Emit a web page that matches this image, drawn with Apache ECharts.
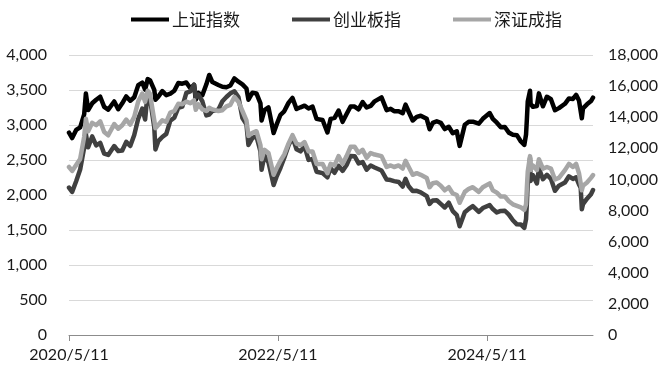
<!DOCTYPE html>
<html>
<head>
<meta charset="utf-8">
<script src="https://cdn.jsdelivr.net/npm/echarts@6/dist/echarts.min.js"></script>
<style>
	html, body { margin: 0; padding: 0; background: #fff; }
	#chartDiv { width: 671px; height: 376px; }
</style>
</head>
<body>
<div id="chartDiv"></div>
<script>
var dates = [
	'2020/5/11', '2020/5/22', '2020/6/5', '2020/6/19', '2020/7/3', '2020/7/9', '2020/7/17', '2020/7/31',
	'2020/8/14', '2020/8/28', '2020/9/11', '2020/9/25', '2020/10/16', '2020/10/30', '2020/11/13', '2020/11/27',
	'2020/12/11', '2020/12/25', '2021/1/8', '2021/1/22', '2021/2/1', '2021/2/10', '2021/2/18', '2021/3/5',
	'2021/3/9', '2021/3/19', '2021/4/2', '2021/4/16', '2021/4/30', '2021/5/14', '2021/5/28', '2021/6/11',
	'2021/6/25', '2021/7/9', '2021/7/22', '2021/7/28', '2021/8/6', '2021/8/20', '2021/9/3', '2021/9/13',
	'2021/9/24', '2021/10/15', '2021/10/29', '2021/11/12', '2021/11/26', '2021/12/10', '2021/12/24', '2022/1/7',
	'2022/1/21', '2022/1/28', '2022/2/11', '2022/2/25', '2022/3/11', '2022/3/15', '2022/3/25', '2022/4/8',
	'2022/4/26', '2022/5/6', '2022/5/20', '2022/6/2', '2022/6/17', '2022/7/1', '2022/7/15', '2022/7/29',
	'2022/8/12', '2022/8/26', '2022/9/9', '2022/9/23', '2022/10/14', '2022/10/31', '2022/11/11', '2022/11/25',
	'2022/12/9', '2022/12/23', '2023/1/6', '2023/1/20', '2023/2/3', '2023/2/17', '2023/3/3', '2023/3/17',
	'2023/3/31', '2023/4/14', '2023/5/8', '2023/5/26', '2023/6/9', '2023/6/21', '2023/7/7', '2023/7/21',
	'2023/7/31', '2023/8/11', '2023/8/25', '2023/9/8', '2023/9/22', '2023/10/13', '2023/10/23', '2023/11/3',
	'2023/11/17', '2023/12/1', '2023/12/15', '2023/12/29', '2024/1/12', '2024/1/26', '2024/2/5', '2024/2/23',
	'2024/3/8', '2024/3/22', '2024/4/12', '2024/4/26', '2024/5/20', '2024/5/31', '2024/6/14', '2024/6/28',
	'2024/7/12', '2024/7/26', '2024/8/9', '2024/8/23', '2024/9/6', '2024/9/18', '2024/9/24', '2024/9/27',
	'2024/9/30', '2024/10/8', '2024/10/10', '2024/10/18', '2024/11/1', '2024/11/8', '2024/11/22', '2024/12/6',
	'2024/12/20', '2025/1/3', '2025/1/17', '2025/2/7', '2025/2/21', '2025/3/7', '2025/3/18', '2025/3/28',
	'2025/4/3', '2025/4/7', '2025/4/11', '2025/4/25', '2025/5/9', '2025/5/16'
];

// 上证指数 (left axis)
var shData = [
	2890, 2814, 2930, 2967, 3152, 3450, 3214, 3310,
	3360, 3404, 3260, 3219, 3336, 3225, 3310, 3408,
	3347, 3397, 3570, 3606, 3505, 3655, 3640, 3502,
	3360, 3405, 3484, 3426, 3447, 3490, 3601, 3590,
	3607, 3524, 3574, 3361, 3458, 3427, 3581, 3715,
	3613, 3572, 3547, 3539, 3564, 3666, 3618, 3580,
	3522, 3361, 3462, 3451, 3309, 3064, 3212, 3251,
	2886, 3001, 3146, 3195, 3316, 3387, 3228, 3253,
	3276, 3236, 3262, 3088, 3071, 2893, 3087, 3101,
	3206, 3045, 3157, 3265, 3263, 3224, 3328, 3250,
	3273, 3338, 3395, 3212, 3231, 3197, 3197, 3168,
	3291, 3189, 3064, 3117, 3132, 3088, 2939, 3030,
	3054, 3031, 2942, 2975, 2882, 2910, 2702, 3004,
	3046, 3048, 3019, 3088, 3171, 3087, 3033, 2967,
	2971, 2891, 2862, 2855, 2765, 2717, 2863, 3088,
	3336, 3489, 3301, 3261, 3272, 3452, 3267, 3404,
	3368, 3211, 3241, 3303, 3379, 3373, 3430, 3351,
	3342, 3096, 3238, 3295, 3342, 3390
];

// 创业板指 (left axis)
var cybData = [
	2106, 2045, 2197, 2363, 2678, 2870, 2682, 2837,
	2709, 2745, 2590, 2572, 2700, 2628, 2636, 2759,
	2700, 2857, 3092, 3233, 3079, 3466, 3380, 2964,
	2650, 2769, 2829, 2873, 3062, 3104, 3247, 3263,
	3458, 3480, 3576, 3395, 3432, 3339, 3138, 3150,
	3200, 3220, 3340, 3400, 3453, 3480, 3400, 3100,
	3010, 2715, 2817, 2836, 2623, 2360, 2566, 2467,
	2142, 2258, 2389, 2529, 2707, 2827, 2654, 2624,
	2697, 2502, 2515, 2333, 2313, 2253, 2381, 2318,
	2418, 2345, 2428, 2558, 2555, 2451, 2471, 2362,
	2421, 2393, 2350, 2221, 2213, 2198, 2185, 2121,
	2231, 2124, 2057, 2060, 2038, 1984, 1873, 1921,
	1925, 1874, 1822, 1891, 1770, 1714, 1553, 1754,
	1802, 1842, 1759, 1814, 1855, 1799, 1751, 1772,
	1775, 1720, 1640, 1581, 1580, 1530, 1653, 1889,
	2175, 2530, 2200, 2283, 2164, 2382, 2226, 2289,
	2231, 2060, 2133, 2178, 2267, 2229, 2252, 2152,
	2106, 1796, 1868, 1948, 2011, 2070
];

// 深证成指 (right axis)
var szData = [
	10800, 10550, 10930, 11320, 12740, 13900, 13090, 13640,
	13490, 13740, 13050, 12840, 13560, 13260, 13480, 13850,
	13530, 14020, 15030, 15520, 14990, 15700, 15500, 13800,
	13300, 13500, 13800, 13700, 14300, 14400, 14860, 14840,
	15000, 14900, 15080, 14480, 14830, 14500, 14400, 14600,
	14500, 14400, 14450, 14700, 14800, 15300, 15000, 14400,
	13800, 12800, 13000, 13100, 12200, 11300, 11900, 11700,
	10300, 10700, 11200, 11600, 12300, 12850, 12300, 12200,
	12400, 11800, 11800, 11000, 11000, 10400, 11000, 10900,
	11500, 11000, 11500, 12100, 12100, 11700, 11900, 11400,
	11700, 11600, 11500, 10800, 10900, 10800, 10900, 10700,
	11200, 10800, 10300, 10400, 10300, 10100, 9500, 9750,
	9800, 9600, 9300, 9500, 9100, 9000, 8500, 9200,
	9400, 9500, 9200, 9500, 9750, 9300, 9150, 8900,
	8900, 8600, 8400, 8300, 8200, 8050, 8400, 9500,
	10500, 11500, 10600, 10900, 10600, 11300, 10700, 10800,
	10700, 10000, 10100, 10600, 11000, 10800, 11000, 10400,
	10300, 9300, 9600, 9800, 10100, 10280
];

var seriesNames = ['上证指数', '创业板指', '深证成指'];
var seriesColors = ['#000000', '#404040', '#a6a6a6'];
var xTickLabels = ['2020/5/11', '2022/5/11', '2024/5/11'];

function dayOffset(s) {
	var p = s.split('/');
	var t = Date.UTC(+p[0], +p[1] - 1, +p[2]);
	var p0 = dates[0].split('/');
	var t0 = Date.UTC(+p0[0], +p0[1] - 1, +p0[2]);
	return Math.round((t - t0) / 86400000);
}

function toPairs(values) {
	var res = [];
	for (var i = 0; i < dates.length; i++) {
		res.push([dayOffset(dates[i]), values[i]]);
	}
	return res;
}

function fmtNum(v) {
	return Number(v).toLocaleString('en-US');
}

var xTickValues = xTickLabels.map(dayOffset);
var numFont = 'Lato, "Noto Sans", sans-serif';

var chart = echarts.init(document.getElementById('chartDiv'), null, { renderer: 'canvas' });

function makeSeries(name, data, color, axisIndex) {
	return {
		name: name,
		type: 'line',
		yAxisIndex: axisIndex,
		data: toPairs(data),
		showSymbol: false,
		symbol: 'none',
		color: color,
		lineStyle: {
			color: color,
			width: 4.5,
			join: 'round',
			cap: 'round'
		},
		animation: false
	};
}

var option = {
	backgroundColor: '#ffffff',
	animation: false,
	legend: {
		top: 6,
		left: 126,
		itemGap: 52,
		itemWidth: 38,
		itemHeight: 4,
		icon: 'rect',
		textStyle: {
			fontFamily: '"Noto Sans CJK SC", sans-serif',
			fontSize: 17,
			color: '#1a1a1a',
			padding: [0, 0, 0, -2]
		},
		data: seriesNames
	},
	grid: {
		left: 69,
		right: 78,
		top: 55,
		bottom: 41,
		containLabel: false
	},
	xAxis: {
		type: 'value',
		min: 0,
		max: dayOffset(dates[dates.length - 1]),
		splitLine: { show: false },
		axisLine: {
			show: true,
			lineStyle: { color: '#8c8c8c', width: 1 }
		},
		axisTick: {
			show: true,
			length: 6,
			customValues: xTickValues,
			lineStyle: { color: '#8c8c8c' }
		},
		axisLabel: {
			customValues: xTickValues,
			margin: 12,
			fontFamily: numFont,
			fontSize: 16,
			color: '#1a1a1a',
			formatter: function (v) {
				var i = xTickValues.indexOf(Math.round(v));
				return i >= 0 ? xTickLabels[i] : '';
			}
		}
	},
	yAxis: [
		{
			type: 'value',
			min: 0,
			max: 4000,
			interval: 500,
			position: 'left',
			axisLine: { show: false },
			axisTick: { show: false },
			splitLine: {
				show: true,
				lineStyle: { color: '#d9d9d9', width: 1 }
			},
			axisLabel: {
				margin: 22,
				fontFamily: numFont,
				fontSize: 16,
				color: '#1a1a1a',
				formatter: fmtNum
			}
		},
		{
			type: 'value',
			min: 0,
			max: 18000,
			interval: 2000,
			position: 'right',
			axisLine: { show: false },
			axisTick: { show: false },
			splitLine: { show: false },
			axisLabel: {
				margin: 15,
				fontFamily: numFont,
				fontSize: 16,
				color: '#1a1a1a',
				formatter: fmtNum
			}
		}
	],
	series: [
		makeSeries(seriesNames[0], shData, seriesColors[0], 0),
		makeSeries(seriesNames[1], cybData, seriesColors[1], 0),
		makeSeries(seriesNames[2], szData, seriesColors[2], 1)
	]
};

chart.setOption(option, true);
</script>
</body>
</html>
